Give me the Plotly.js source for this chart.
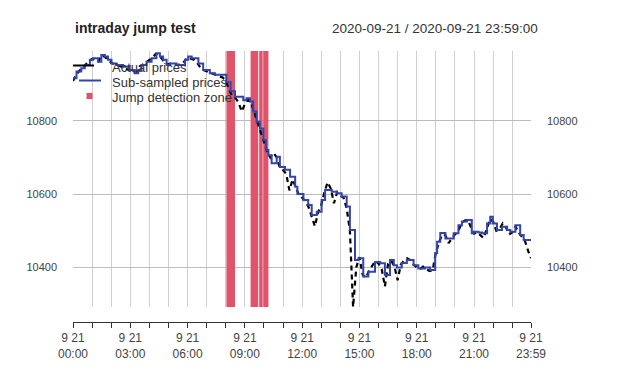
<!DOCTYPE html>
<html>
<head>
<meta charset="utf-8">
<script src="https://cdn.plot.ly/plotly-3.0.1.min.js"></script>
<style>html,body{margin:0;padding:0;background:#fff;}#chart{width:640px;height:379px;}</style>
</head>
<body>
<div id="chart"></div>
<script>
const day = '2020-09-21';

// Actual prices (read approx. every 10 minutes)
const actualTimes = ['00:00','00:10','00:20','00:30','00:40','00:50','01:00','01:10','01:20','01:30','01:40','01:50',
'02:00','02:10','02:20','02:30','02:40','02:50','03:00','03:10','03:20','03:30','03:40','03:50',
'04:00','04:10','04:20','04:30','04:40','04:50','05:00','05:10','05:20','05:30','05:40','05:50',
'06:00','06:10','06:20','06:30','06:40','06:50','07:00','07:10','07:20','07:30','07:40','07:50',
'08:00','08:10','08:20','08:30','08:40','08:50','09:00','09:10','09:20','09:30','09:40','09:50',
'10:00','10:10','10:20','10:30','10:40','10:50','11:00','11:10','11:20','11:30','11:40','11:50',
'12:00','12:10','12:20','12:30','12:40','12:50','13:00','13:10','13:20','13:30','13:40','13:50',
'14:00','14:10','14:20','14:30','14:40','14:50','15:00','15:10','15:20','15:30','15:40','15:50',
'16:00','16:10','16:20','16:30','16:40','16:50','17:00','17:10','17:20','17:30','17:40','17:50',
'18:00','18:10','18:20','18:30','18:40','18:50','19:00','19:10','19:20','19:30','19:40','19:50',
'20:00','20:10','20:20','20:30','20:40','20:50','21:00','21:10','21:20','21:30','21:40','21:50',
'22:00','22:10','22:20','22:30','22:40','22:50','23:00','23:10','23:20','23:30','23:40','23:50','23:59'];
const actualPrices = [10908,10925,10936,10945,10952,10962,10968,10970,10962,10978,10974,10965,
10958,10954,10950,10948,10946,10940,10937,10930,10932,10948,10953,10960,
10966,10972,10982,10978,10968,10955,10954,10956,10953,10952,10955,10962,
10972,10970,10966,10958,10945,10938,10935,10930,10927,10924,10922,10918,
10910,10885,10868,10862,10850,10825,10845,10858,10848,10822,10792,10770,
10740,10715,10700,10712,10700,10672,10665,10655,10610,10640,10618,10598,
10590,10580,10565,10535,10512,10550,10570,10605,10632,10615,10575,10605,
10596,10590,10560,10500,10292,10400,10428,10380,10372,10390,10405,10418,
10410,10395,10348,10410,10418,10402,10365,10408,10418,10425,10420,10408,
10400,10395,10402,10396,10390,10392,10440,10468,10490,10488,10466,10478,
10490,10498,10518,10527,10530,10510,10492,10496,10488,10480,10505,10532,
10525,10500,10504,10520,10510,10490,10495,10512,10495,10482,10472,10445,10425];

// Sub-sampled prices (step changes)
const subTimes = ['00:00','00:11','00:26','00:37','00:53','01:03','01:19','01:29','01:40','01:50','02:01','02:17','02:37','02:58',
'03:14','03:25','03:35','03:51','04:07','04:22','04:33','04:43','04:54','05:04','05:25','05:52','06:02','06:13','06:34','06:49',
'07:10','07:26','08:02','08:15','08:29','08:55','09:05','09:16','09:26','09:37','09:47','09:58','10:06','10:14','10:24','10:40',
'10:50','11:06','11:22','11:38','11:45','12:04','12:19','12:30','12:46','13:01','13:12','13:33','13:49','14:04','14:20','14:30',
'14:46','14:57','15:12','15:28','15:49','16:05','16:20','16:36','16:48','16:58','17:13','17:29','17:50','18:05','18:26','18:42',
'18:58','19:04','19:14','19:30','19:56','20:11','20:22','20:38','20:53','20:59','21:14','21:25','21:41','21:51','21:59','22:12',
'22:28','22:44','22:54','23:10','23:25','23:36','23:59'];
const subPrices = [10916,10934,10943,10952,10966,10970,10961,10979,10975,10966,10956,10952,10947,10938,
10929,10938,10952,10961,10970,10984,10975,10966,10952,10956,10952,10966,10975,10970,10956,10938,
10929,10925,10905,10880,10865,10856,10861,10852,10825,10797,10779,10747,10720,10706,10684,10702,
10674,10666,10647,10620,10600,10584,10570,10543,10552,10584,10611,10606,10602,10593,10566,10502,
10420,10425,10375,10388,10415,10411,10379,10420,10406,10400,10412,10420,10406,10397,10400,10393,
10439,10470,10494,10479,10493,10515,10525,10529,10493,10497,10495,10493,10520,10538,10520,10502,
10511,10502,10497,10515,10488,10475,10475];

// Jump detection zones
const zoneStart = ['08:02','09:18','09:45','09:58'];
const zoneEnd   = ['08:29','09:42','09:56','10:14'];

// Axis ticks
const tickTimes = ['00:00','01:00','02:00','03:00','04:00','05:00','06:00','07:00','08:00','09:00','10:00','11:00',
'12:00','13:00','14:00','15:00','16:00','17:00','18:00','19:00','20:00','21:00','22:00','23:00','23:59'];
const tickLabels = ['9 21<br>00:00','','','9 21<br>03:00','','','9 21<br>06:00','','','9 21<br>09:00','','',
'9 21<br>12:00','','','9 21<br>15:00','','','9 21<br>18:00','','','9 21<br>21:00','','','9 21<br>23:59'];
const yTicks = [10400, 10600, 10800];
const yRange = [10292, 10990];
const legendNames = ['Actual prices', 'Sub-sampled prices', 'Jump detection zone'];

const ts = t => day + ' ' + t;
const font = 'Liberation Sans, Arial, sans-serif';
const zoneColor = '#DF536B';
const blue = '#3344AA';

// pixel helpers for paper coordinates (plot area: x 73..531, y 51..322)
const px = v => (v - 73) / 458;
const py = v => (322 - v) / 271;

const traces = [
  {x: actualTimes.map(ts), y: actualPrices, type: 'scatter', mode: 'lines', name: legendNames[0],
   line: {color: '#000000', width: 2.2, dash: '5px,4px'}},
  {x: subTimes.map(ts), y: subPrices, type: 'scatter', mode: 'lines', name: legendNames[1],
   line: {color: blue, width: 2, shape: 'hv'}},
  {x: [ts('00:00')], y: [null], yaxis: 'y2', type: 'scatter', mode: 'lines', showlegend: false, hoverinfo: 'skip'}
];

const shapes = zoneStart.map((s, i) => ({
  type: 'rect', xref: 'x', yref: 'y', x0: ts(s), x1: ts(zoneEnd[i]), y0: yRange[0], y1: yRange[1],
  fillcolor: zoneColor, line: {width: 0}, layer: 'between'
}));
// legend keys
shapes.push({type: 'line', xref: 'paper', yref: 'paper', x0: px(73), x1: px(94), y0: py(65.5), y1: py(65.5),
  line: {color: '#000', width: 2}});
shapes.push({type: 'line', xref: 'paper', yref: 'paper', x0: px(79), x1: px(101), y0: py(80.5), y1: py(80.5),
  line: {color: blue, width: 2}});
shapes.push({type: 'rect', xref: 'paper', yref: 'paper', x0: px(86.5), x1: px(92.5), y0: py(99), y1: py(93),
  fillcolor: zoneColor, line: {width: 0}});

const annotations = [{text: '2020-09-21 / 2020-09-21 23:59:00', xref: 'paper', yref: 'paper',
    x: px(540), y: py(28), xanchor: 'right', yanchor: 'middle', showarrow: false,
    font: {family: font, size: 13.5, color: '#333'}}];
[67, 82, 97].forEach((yy, i) => annotations.push({text: legendNames[i], xref: 'paper', yref: 'paper',
    x: px(110), y: py(yy), xanchor: 'left', yanchor: 'middle', showarrow: false,
    font: {family: font, size: 13, color: '#333'}}));

const yaxisCommon = {
  range: yRange, domain: [15/271, 1], tickvals: yTicks, ticktext: yTicks.map(String),
  showline: false, zeroline: false, ticks: '', ticklabelstandoff: 15,
  tickfont: {family: font, size: 11, color: '#444'}
};

const layout = {
  width: 640, height: 379,
  margin: {l: 73, r: 109, t: 51, b: 57},
  paper_bgcolor: '#fff', plot_bgcolor: '#fff',
  showlegend: false,
  title: {text: '<b>intraday jump test</b>', x: 75/640, xanchor: 'left', xref: 'container',
          y: 1 - 28/379, yanchor: 'middle', yref: 'container',
          font: {family: font, size: 14, color: '#222'}},
  xaxis: {
    type: 'date', range: [ts('00:00'), ts('23:59')], anchor: 'free', position: 0,
    tickmode: 'array', tickvals: tickTimes.map(ts), ticktext: tickLabels,
    showgrid: true, gridcolor: '#cfcfcf', gridwidth: 1,
    showline: true, linecolor: '#333', linewidth: 1,
    ticks: 'outside', ticklen: 5, tickcolor: '#333', tickwidth: 1,
    tickfont: {family: font, size: 12, color: '#444'}, zeroline: false
  },
  yaxis: Object.assign({}, yaxisCommon, {side: 'left', showgrid: true, gridcolor: '#bdbdbd', gridwidth: 1}),
  yaxis2: Object.assign({}, yaxisCommon, {side: 'right', overlaying: 'y', showgrid: false}),
  shapes: shapes,
  annotations: annotations
};

Plotly.newPlot('chart', traces, layout, {displayModeBar: false, staticPlot: true});
</script>
</body>
</html>
